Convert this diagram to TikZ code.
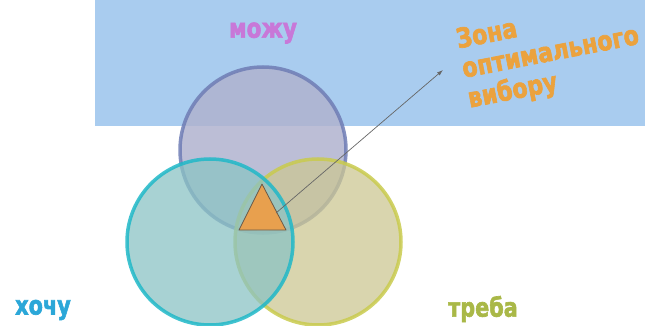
\documentclass[tikz,border=0pt]{standalone}
\usepackage{fontspec}
\usetikzlibrary{arrows.meta}
\newfontfamily\heavy{DejaVu Sans}[BoldFeatures={FakeBold=2.5}]
\newcommand{\narrow}[1]{\scalebox{0.8}[1]{#1}}
\newcommand{\narrowz}[1]{\scalebox{0.82}[1]{#1}}
\definecolor{bgblue}{HTML}{A9CCEF}
\definecolor{topfill}{HTML}{B0B3CF}
\definecolor{topline}{HTML}{6F7DB5}
\definecolor{leftfill}{HTML}{8BC3C4}
\definecolor{leftline}{HTML}{20B8C8}
\definecolor{rightfill}{HTML}{CCC793}
\definecolor{rightline}{HTML}{C9CB4E}
\definecolor{trifill}{HTML}{E8A04E}
\definecolor{triline}{HTML}{6B5A48}
\definecolor{zonecol}{HTML}{EBA23E}
\definecolor{mozhucol}{HTML}{C878D8}
\definecolor{khochucol}{HTML}{2BA7D8}
\definecolor{trebacol}{HTML}{A9B847}
\tikzset{
  venn/.style={circle, minimum size=166pt, inner sep=0pt, line width=3.5pt, fill opacity=0.75, draw opacity=0.85},
  lbl/.style={font=\heavy\bfseries\fontsize{26}{30}\selectfont, inner sep=0pt},
}
\begin{document}
\begin{tikzpicture}[x=1pt,y=-1pt]
\useasboundingbox (0,0) rectangle (645,326);
\fill[bgblue] (95,0) rectangle (645,126);
\node[venn, fill=topfill, draw=topline, fill opacity=0.85] (top) at (263,150) {};
\node[venn, fill=rightfill, draw=rightline] (right) at (318,242) {};
\node[venn, fill=leftfill, draw=leftline] (left) at (210,242) {};
\coordinate (t1) at (262,184);
\coordinate (t2) at (239,230);
\coordinate (t3) at (286,230);
\filldraw[fill=trifill, draw=triline, line width=0.8pt, line join=round] (t1) -- (t2) -- (t3) -- cycle;
\coordinate (as) at (276,213);
\coordinate (ae) at (443,70);
\draw[gray!80!black, line width=0.7pt, -{Latex[length=6pt,width=4pt]}] (as) -- (ae);
\node[lbl, text=mozhucol, font=\heavy\bfseries\fontsize{27}{32}\selectfont] (mozhu) at (263,33) {\narrow{можу}};
\node[lbl, text=khochucol] (khochu) at (43,310) {\narrow{хочу}};
\node[lbl, text=trebacol] (treba) at (483,309) {\narrow{треба}};
\node[lbl, text=zonecol, rotate=11, font=\heavy\bfseries\fontsize{27}{30}\selectfont] (zone) at (551,55) {\narrowz{\begin{tabular}{@{}l@{}}Зона\\оптимального\\вибору\end{tabular}}};
\end{tikzpicture}
\end{document}
